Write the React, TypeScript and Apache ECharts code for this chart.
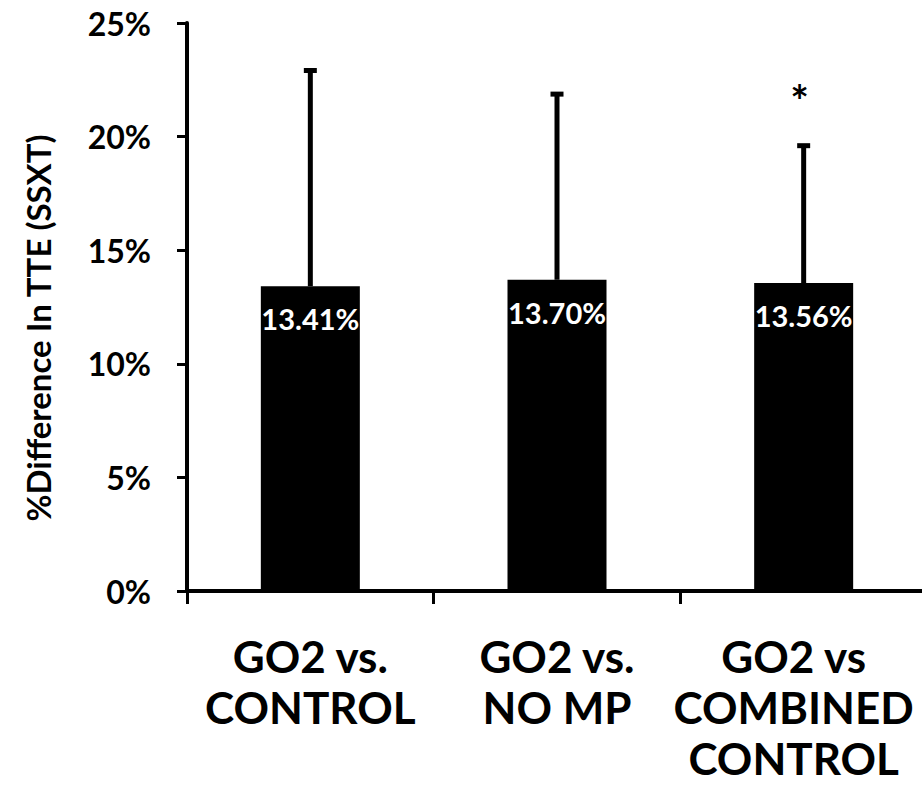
import React, { useEffect, useRef } from "react";
import * as echarts from "echarts";

// Comparison groups along the x axis
const categories = ["GO2 vs.\nCONTROL", "GO2 vs.\nNO MP", "GO2 vs\nCOMBINED\nCONTROL"];
// Mean % difference in time to exhaustion
const meanDiff = [13.41, 13.7, 13.56];
// Upper error (standard deviation)
const upperError = [9.5, 8.17, 6.04];
// Significance markers drawn above the error bars
const significance = ["", "", "*"];
// Y axis ticks
const yMin = 0;
const yMax = 25;
const yStep = 5;

const FONT = "Lato, 'Open Sans', sans-serif";

export default function App() {
  const ref = useRef<HTMLDivElement>(null);

  useEffect(() => {
    if (!ref.current) return;
    const chart = echarts.init(ref.current, undefined, { renderer: "svg" });

    const errData = meanDiff.map((v, i) => [i, v, v + upperError[i], significance[i]]);

    // The last label sits a little left of its slot so it stays inside the page
    const categoryItems = categories.map((c, i) =>
      i === categories.length - 1
        ? { value: c, textStyle: { padding: [0, 20, 0, 0] } }
        : { value: c }
    );

    chart.setOption({
      animation: false,
      backgroundColor: "#ffffff",
      textStyle: { fontFamily: FONT },
      grid: {
        left: 187,
        top: 23,
        right: -5,
        bottom: 194,
        containLabel: false,
        outerBoundsMode: "none",
      },
      xAxis: {
        type: "category",
        data: categoryItems,
        axisLine: { lineStyle: { color: "#000", width: 4 } },
        axisTick: { show: true, alignWithLabel: false, length: 13, lineStyle: { color: "#000", width: 3 } },
        axisLabel: {
          interval: 0,
          color: "#000",
          fontFamily: FONT,
          fontWeight: "bold",
          fontSize: 44,
          lineHeight: 51,
          margin: 39,
        },
      },
      yAxis: {
        type: "value",
        min: yMin,
        max: yMax,
        interval: yStep,
        splitLine: { show: false },
        axisLine: { show: true, lineStyle: { color: "#000", width: 4 } },
        axisTick: { show: true, length: 10, lineStyle: { color: "#000", width: 3 } },
        axisLabel: {
          formatter: "{value}%",
          color: "#000",
          fontFamily: FONT,
          fontWeight: "bold",
          fontSize: 32,
          margin: 36,
        },
      },
      graphic: [
        {
          type: "text",
          x: 38,
          y: 328,
          rotation: Math.PI / 2,
          style: {
            text: "%Difference In TTE (SSXT)",
            fill: "#000",
            font: `bold 33px ${FONT}`,
            textAlign: "center",
            textVerticalAlign: "middle",
          },
        },
      ],
      series: [
        {
          type: "bar",
          data: meanDiff,
          barWidth: 99,
          itemStyle: { color: "#000" },
          label: {
            show: true,
            position: "insideTop",
            distance: 18,
            color: "#fff",
            fontFamily: FONT,
            fontWeight: "bold",
            fontSize: 29,
            formatter: (p: any) => `${p.value.toFixed(2)}%`,
          },
          z: 2,
        },
        {
          type: "custom",
          data: errData,
          z: 3,
          renderItem: (params: any, api: any) => {
            const x = api.value(0);
            const base = api.coord([x, api.value(1)]);
            const top = api.coord([x, api.value(2)]);
            const mark = api.value(3);
            const half = 6.5;
            const children: any[] = [
              {
                type: "line",
                shape: { x1: base[0], y1: base[1], x2: top[0], y2: top[1] },
                style: { stroke: "#000", lineWidth: 5 },
              },
              {
                type: "line",
                shape: { x1: top[0] - half, y1: top[1], x2: top[0] + half, y2: top[1] },
                style: { stroke: "#000", lineWidth: 5 },
              },
            ];
            if (mark) {
              children.push({
                type: "text",
                x: top[0] - 4,
                y: top[1] - 24,
                style: {
                  text: String(mark),
                  fill: "#000",
                  font: `bold 44px ${FONT}`,
                  textAlign: "center",
                  textVerticalAlign: "bottom",
                },
              });
            }
            return { type: "group", children };
          },
        },
      ],
    });

    return () => chart.dispose();
  }, []);

  return (
    <div
      ref={ref}
      style={{ position: "absolute", left: 0, top: 0, width: 922, height: 785, background: "#fff" }}
    />
  );
}
